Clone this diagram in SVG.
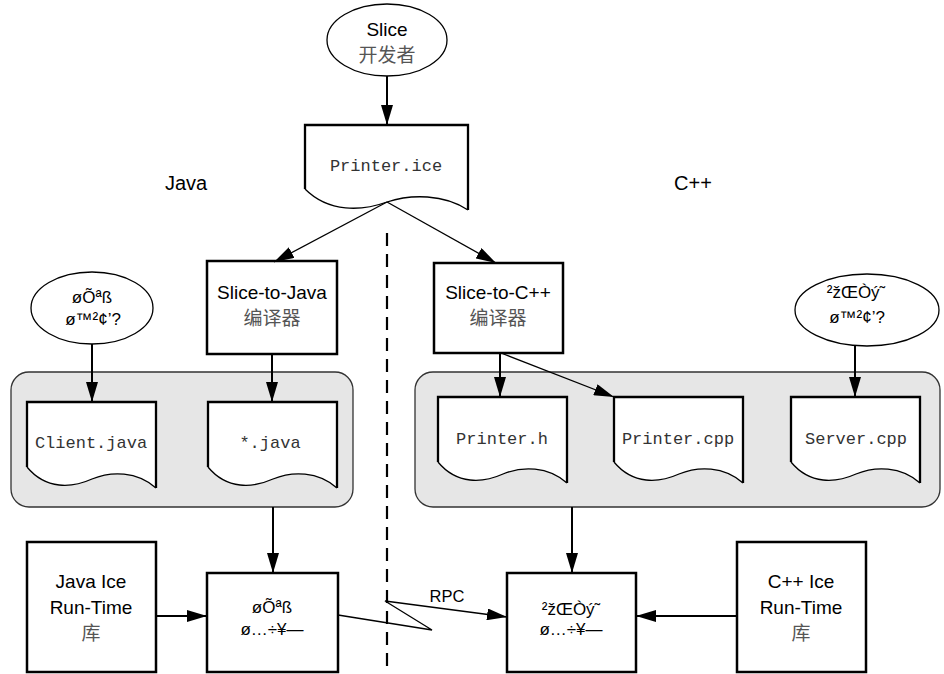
<svg xmlns="http://www.w3.org/2000/svg" xmlns:xlink="http://www.w3.org/1999/xlink" width="944" height="674" viewBox="0 0 944 674">
<style>
.sans{font-family:"Liberation Sans",Arial,sans-serif;fill:#000;text-anchor:middle}
.cjk{font-family:"Liberation Sans","Noto Sans CJK SC",sans-serif;fill:#555;text-anchor:middle}
.mono{font-family:"Liberation Mono","Courier New",monospace;fill:#333;text-anchor:middle;font-size:17px}
.box{fill:#fff;stroke:#000;stroke-width:2.5}
.ell{fill:#fff;stroke:#000;stroke-width:1.3}
.grp{fill:#e6e6e6;stroke:#333;stroke-width:1.3}
.docfill{fill:#fff;stroke:none}
.docedge{fill:none;stroke:#000;stroke-width:2.3}
.docwave{fill:none;stroke:#000;stroke-width:1.3}
.arr{fill:none;stroke:#000;stroke-width:2;marker-end:url(#ah)}
.arrt{fill:none;stroke:#000;stroke-width:1.3;marker-end:url(#ah)}
</style>
<defs>
<marker id="ah" markerUnits="userSpaceOnUse" viewBox="0 0 20 12" refX="20" refY="6" markerWidth="20" markerHeight="12" orient="auto">
<path d="M0,0 L20,6 L0,12 z" fill="#000"/>
</marker>
<g id="doc">
<path class="docfill" d="M0,65 V0 H129 V86 C110,69 84,69 65,77 C45,86 19,88 0,65 Z"/>
<path class="docedge" d="M0,65 V0 H129 V86"/>
<path class="docwave" d="M0,65 C19,88 45,86 65,77 C84,69 110,69 129,86"/>
</g>
</defs>
<rect width="944" height="674" fill="#fff"/>

<text class="sans" x="186" y="190" font-size="20">Java</text>
<text class="sans" x="693" y="190" font-size="20">C++</text>

<g id="divider">
<line x1="387" y1="233" x2="387" y2="672" stroke="#000" stroke-width="2.2" stroke-dasharray="13 8"/>
</g>

<g id="java-group"><rect class="grp" x="11" y="372" width="342" height="135" rx="18"/></g>
<g id="cpp-group"><rect class="grp" x="415" y="372" width="525" height="135" rx="18"/></g>

<g id="slice-dev">
<ellipse class="ell" cx="387" cy="40" rx="60" ry="36"/>
<text class="sans" x="387" y="36" font-size="19">Slice</text>
<text class="cjk" x="387" y="62" font-size="19">开发者</text>
</g>

<g id="printer-ice">
<path class="docfill" d="M305,189 V125 H468 V210 C444,194 411,194 387,202 C362,211 329,213 305,189 Z"/>
<path class="docedge" d="M305,189 V125 H468 V210"/>
<path class="docwave" d="M305,189 C329,213 362,211 387,202 C411,194 444,194 468,210"/>
<text class="mono" x="386" y="171">Printer.ice</text>
</g>

<g id="slice2java">
<rect class="box" x="207" y="261" width="130" height="93"/>
<text class="sans" x="272" y="299" font-size="19">Slice-to-Java</text>
<text class="cjk" x="272" y="325" font-size="19">编译器</text>
</g>

<g id="slice2cpp">
<rect class="box" x="434" y="263" width="129" height="90"/>
<text class="sans" x="498" y="299" font-size="19">Slice-to-C++</text>
<text class="cjk" x="498" y="325" font-size="19">编译器</text>
</g>

<g id="client-dev">
<ellipse class="ell" cx="92" cy="308" rx="61" ry="36"/>
<text class="sans" x="92" y="303" font-size="17">øÕªß</text>
<text class="sans" x="93" y="325" font-size="17">ø™²¢’?</text>
</g>

<g id="server-dev">
<ellipse class="ell" cx="867" cy="310" rx="72" ry="36"/>
<text class="sans" x="856" y="298" font-size="17">²žŒÒý˜</text>
<text class="sans" x="857" y="323" font-size="17">ø™²¢’?</text>
</g>

<g id="client-java"><use xlink:href="#doc" x="27" y="402"/><text class="mono" x="91" y="448">Client.java</text></g>
<g id="star-java"><use xlink:href="#doc" x="208" y="402"/><text class="mono" x="270" y="448">*.java</text></g>
<g id="printer-h"><use xlink:href="#doc" x="438" y="397"/><text class="mono" x="502" y="444">Printer.h</text></g>
<g id="printer-cpp"><use xlink:href="#doc" x="614" y="397"/><text class="mono" x="678" y="444">Printer.cpp</text></g>
<g id="server-cpp"><use xlink:href="#doc" x="791" y="397"/><text class="mono" x="856" y="444">Server.cpp</text></g>

<g id="java-runtime">
<rect class="box" x="27" y="542" width="129" height="130"/>
<text class="sans" x="91" y="588" font-size="19">Java Ice</text>
<text class="sans" x="91" y="614" font-size="19">Run-Time</text>
<text class="cjk" x="91" y="640" font-size="19">库</text>
</g>

<g id="client-exe">
<rect class="box" x="207" y="573" width="131" height="99"/>
<text class="sans" x="272" y="613" font-size="17">øÕªß</text>
<text class="sans" x="272" y="635" font-size="17">ø…÷¥—</text>
</g>

<g id="server-exe">
<rect class="box" x="507" y="573" width="129" height="99"/>
<text class="sans" x="571" y="615" font-size="17">²žŒÒý˜</text>
<text class="sans" x="571" y="635" font-size="17">ø…÷¥—</text>
</g>

<g id="cpp-runtime">
<rect class="box" x="737" y="542" width="129" height="130"/>
<text class="sans" x="801" y="588" font-size="19">C++ Ice</text>
<text class="sans" x="801" y="614" font-size="19">Run-Time</text>
<text class="cjk" x="801" y="640" font-size="19">库</text>
</g>

<g id="connectors">
<line class="arr" x1="387" y1="76" x2="387" y2="125"/>
<line class="arrt" x1="387" y1="202" x2="274" y2="262"/>
<line class="arrt" x1="387" y1="202" x2="496" y2="263"/>
<line class="arr" x1="92" y1="344" x2="92" y2="402"/>
<line class="arr" x1="272" y1="354" x2="272" y2="402"/>
<line class="arr" x1="500" y1="353" x2="500" y2="397"/>
<line class="arrt" x1="501" y1="353" x2="614" y2="397"/>
<line class="arr" x1="855" y1="346" x2="855" y2="397"/>
<line class="arr" x1="273" y1="507" x2="273" y2="573"/>
<line class="arr" x1="572" y1="507" x2="572" y2="573"/>
<line class="arr" x1="156" y1="616" x2="207" y2="616"/>
<line class="arr" x1="737" y1="616" x2="636" y2="616"/>
<polyline class="arrt" points="338,615 432,630 385,601 507,617"/>
<text class="sans" x="447" y="602" font-size="16.5">RPC</text>
</g>
</svg>
